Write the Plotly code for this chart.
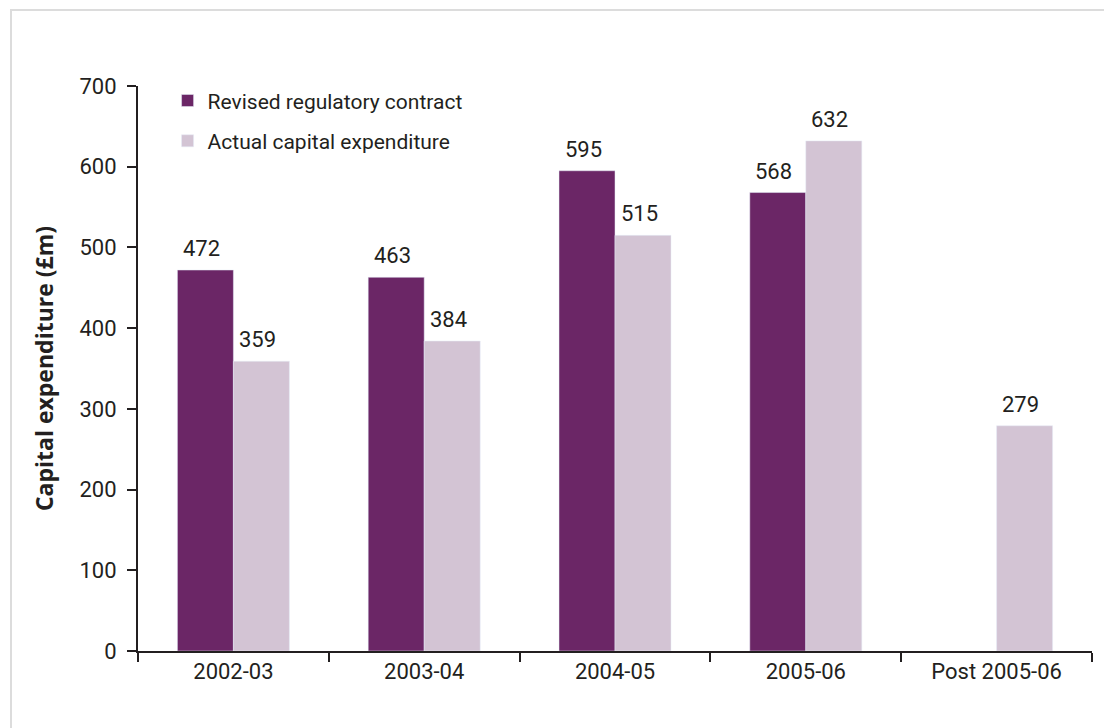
import plotly.graph_objects as go

categories = ["2002-03", "2003-04", "2004-05", "2005-06", "Post 2005-06"]
revised = [472, 463, 595, 568, None]
actual = [359, 384, 515, 632, 279]
series_names = ["Revised regulatory contract", "Actual capital expenditure"]
y_ticks = [0, 100, 200, 300, 400, 500, 600, 700]

PURPLE = "#6b2666"
LILAC = "#d3c4d4"
INK = "#231f20"
FONT = "Roboto"

fig = go.Figure()
fig.add_trace(go.Bar(
    x=categories, y=revised, name=series_names[0], marker_color=PURPLE,
    legendgroup="a",
))
fig.add_trace(go.Bar(
    x=categories, y=actual, name=series_names[1], marker_color=LILAC,
    legendgroup="b",
))

# value labels above each bar (left bar of the pair shifted left, right bar shifted right)
annotations = []
for series, shift in ((revised, -32), (actual, 24)):
    for cat, v in zip(categories, series):
        if v is None:
            continue
        annotations.append(dict(
            x=cat, y=v, xref="x", yref="y", text=str(v), showarrow=False,
            xanchor="center", yanchor="bottom", xshift=shift, yshift=7,
            font=dict(family=FONT, size=22, color=INK),
        ))

fig.update_layout(
    width=1104, height=720,
    margin=dict(l=130, r=20, t=78, b=77),
    paper_bgcolor="white", plot_bgcolor="white",
    barmode="group", bargap=0.413, bargroupgap=0,
    font=dict(family=FONT, size=22, color=INK),
    showlegend=True,
    legend=dict(x=0.031, y=1.01, xanchor="left", yanchor="top",
                font=dict(family=FONT, size=21, color=INK),
                tracegroupgap=10, bgcolor="rgba(0,0,0,0)"),
    xaxis=dict(
        type="category", tickson="boundaries", ticks="outside", ticklen=9,
        tickwidth=2, tickcolor=INK, showline=True, linecolor=INK, linewidth=2,
        showgrid=False, tickfont=dict(family=FONT, size=22, color=INK),
    ),
    yaxis=dict(
        range=[0, 700], tickvals=y_ticks, ticks="outside", ticklen=9,
        tickwidth=2, tickcolor=INK, showline=True, linecolor=INK, linewidth=2,
        showgrid=False, zeroline=False, ticklabelstandoff=6,
        tickfont=dict(family=FONT, size=22, color=INK),
        title=dict(text="<b>Capital expenditure (£m)</b>",
                   font=dict(family="Open Sans", size=23, color=INK), standoff=19),
    ),
    annotations=annotations,
    shapes=[dict(type="rect", xref="paper", yref="paper",
                 x0=-0.1331, x1=1.0147, y0=-0.16, y1=1.1345,
                 line=dict(color="#dcdcdc", width=2), layer="below")],
)

fig.write_html("out.html")
